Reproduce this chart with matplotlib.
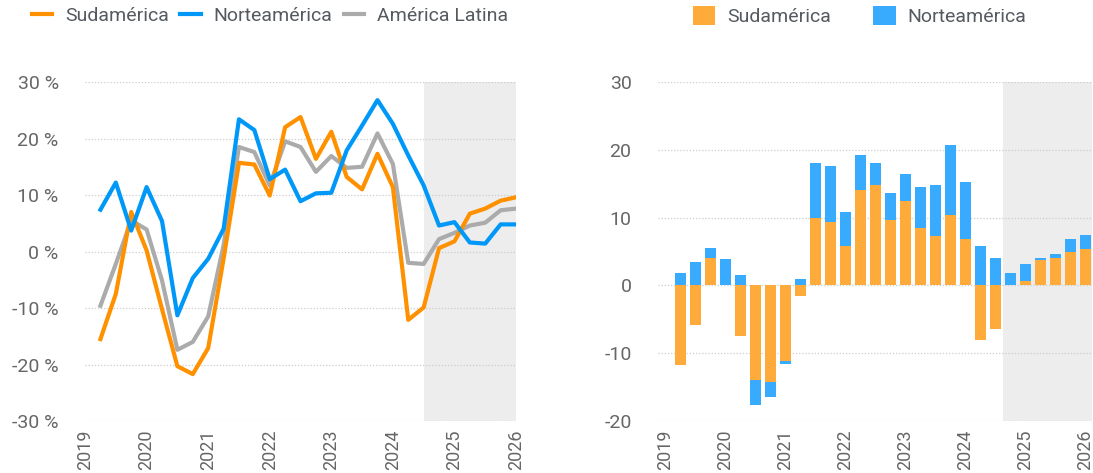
import matplotlib
matplotlib.use("Agg")
import matplotlib.pyplot as plt
import numpy as np
from matplotlib.ticker import FuncFormatter

# Quarterly periods, 2019 Q2 .. 2026 Q1 placed at decimal years
quarters = 2019.25 + 0.25 * np.arange(28)

# Left panel: y/y growth, %
sudamerica = [-15.5, -7.5, 7.0, 0.2, -10.2, -20.3, -21.7, -17.1, -1.3, 15.7,
              15.4, 9.9, 22.0, 23.8, 16.4, 21.2, 13.2, 11.0, 17.3, 11.4,
              -12.1, -9.9, 0.6, 1.8, 6.7, 7.6, 9.0, 9.6]
norteamerica = [7.4, 12.2, 3.7, 11.4, 5.4, -11.3, -4.7, -1.3, 4.0, 23.4,
                21.5, 12.8, 14.5, 8.9, 10.3, 10.4, 17.9, 22.3, 26.8, 22.6,
                17.0, 11.7, 4.6, 5.2, 1.6, 1.4, 4.8, 4.8]
america_latina = [-9.6, -2.2, 5.5, 3.9, -5.1, -17.4, -16.0, -11.5, 1.1, 18.5,
                  17.6, 11.7, 19.5, 18.5, 14.1, 16.9, 14.8, 15.0, 20.9, 15.5,
                  -2.0, -2.2, 2.2, 3.3, 4.6, 5.1, 7.3, 7.6]

# Right panel: contributions (pp)
contrib_sud = [-11.7, -5.8, 4.1, 0.0, -7.4, -13.9, -14.3, -11.2, -1.5, 10.0,
               9.3, 5.8, 14.0, 14.8, 9.7, 12.4, 8.5, 7.3, 10.4, 6.9,
               -8.1, -6.5, 0.0, 0.6, 3.8, 4.1, 5.0, 5.3]
contrib_norte = [1.8, 3.4, 1.4, 3.9, 1.5, -3.7, -2.1, -0.45, 1.0, 8.0,
                 8.3, 5.1, 5.2, 3.2, 3.9, 4.0, 6.0, 7.5, 10.3, 8.3,
                 5.8, 4.1, 1.8, 2.5, 0.3, 0.5, 1.9, 2.1]

years = list(range(2019, 2027))
forecast_start = 2024.5

C_SUD, C_NOR, C_LAT = "#ff9100", "#0098f8", "#ababab"
C_SUD_BAR, C_NOR_BAR = "#ffab3b", "#39abff"
TXT = "#666666"

plt.rcParams["font.family"] = ["Roboto", "DejaVu Sans"]
plt.rcParams["axes.unicode_minus"] = False

fig = plt.figure(figsize=(10.93, 4.73), dpi=100)
ax1 = fig.add_axes([0.0778, 0.1099, 0.3943, 0.7167])
ax2 = fig.add_axes([0.602, 0.1099, 0.397, 0.7167])


def base_style(ax):
    for s in ax.spines.values():
        s.set_visible(False)
    ax.set_axisbelow(True)
    ax.grid(axis="y", ls=(0, (1, 1.5)), color="#cccccc", lw=0.9)
    ax.tick_params(length=0, colors=TXT)
    ax.tick_params(axis="y", pad=19, labelsize=14)
    ax.tick_params(axis="x", pad=6, labelsize=13, labelrotation=90)
    ax.set_xticks(years)
    ax.set_xticklabels([str(y) for y in years])


# ---- Left: growth lines ---------------------------------------------------- #
ax1.axvspan(forecast_start, 2026, color="#ededed", lw=0, zorder=0)
ax1.plot(quarters, sudamerica, color=C_SUD, lw=3, label="Sudamérica", zorder=3)
ax1.plot(quarters, norteamerica, color=C_NOR, lw=3, label="Norteamérica", zorder=3)
ax1.plot(quarters, america_latina, color=C_LAT, lw=3, label="América Latina", zorder=2)
ax1.set_xlim(2019, 2026)
ax1.set_ylim(-30, 30)
ax1.set_yticks(range(-30, 31, 10))
ax1.yaxis.set_major_formatter(FuncFormatter(lambda v, _: f"{int(v)} %"))
base_style(ax1)

fig.legend(handles=ax1.get_lines(), loc="center left", bbox_to_anchor=(22 / 1093, 0.966),
           ncol=3, frameon=False, fontsize=14, labelcolor="#555a60", borderpad=0,
           handlelength=1.05, handletextpad=0.65, columnspacing=0.6)

# ---- Right: stacked contributions ------------------------------------------ #
sud = np.array(contrib_sud)
nor = np.array(contrib_norte)
pos_base = np.where(sud > 0, sud, 0)
neg_base = np.where(sud < 0, sud, 0)
nor_bottom = np.where(nor >= 0, pos_base, neg_base)

ax2.axvspan(2024.625, 2026.2, color="#ededed", lw=0, zorder=0)
b1 = ax2.bar(quarters, sud, width=0.18, color=C_SUD_BAR, label="Sudamérica", zorder=2)
b2 = ax2.bar(quarters, nor, bottom=nor_bottom, width=0.18, color=C_NOR_BAR,
             label="Norteamérica", zorder=2)
ax2.set_xlim(2018.875, 2026.11)
ax2.set_ylim(-20, 30)
ax2.set_yticks(range(-20, 31, 10))
base_style(ax2)

fig.legend(handles=[b1, b2], loc="center left", bbox_to_anchor=(683 / 1093, 0.966),
           ncol=2, frameon=False, fontsize=14, labelcolor="#555a60", borderpad=0,
           handlelength=1.15, handleheight=1.15, handletextpad=0.6, columnspacing=2.2)

fig.savefig("out.png", dpi=100)
